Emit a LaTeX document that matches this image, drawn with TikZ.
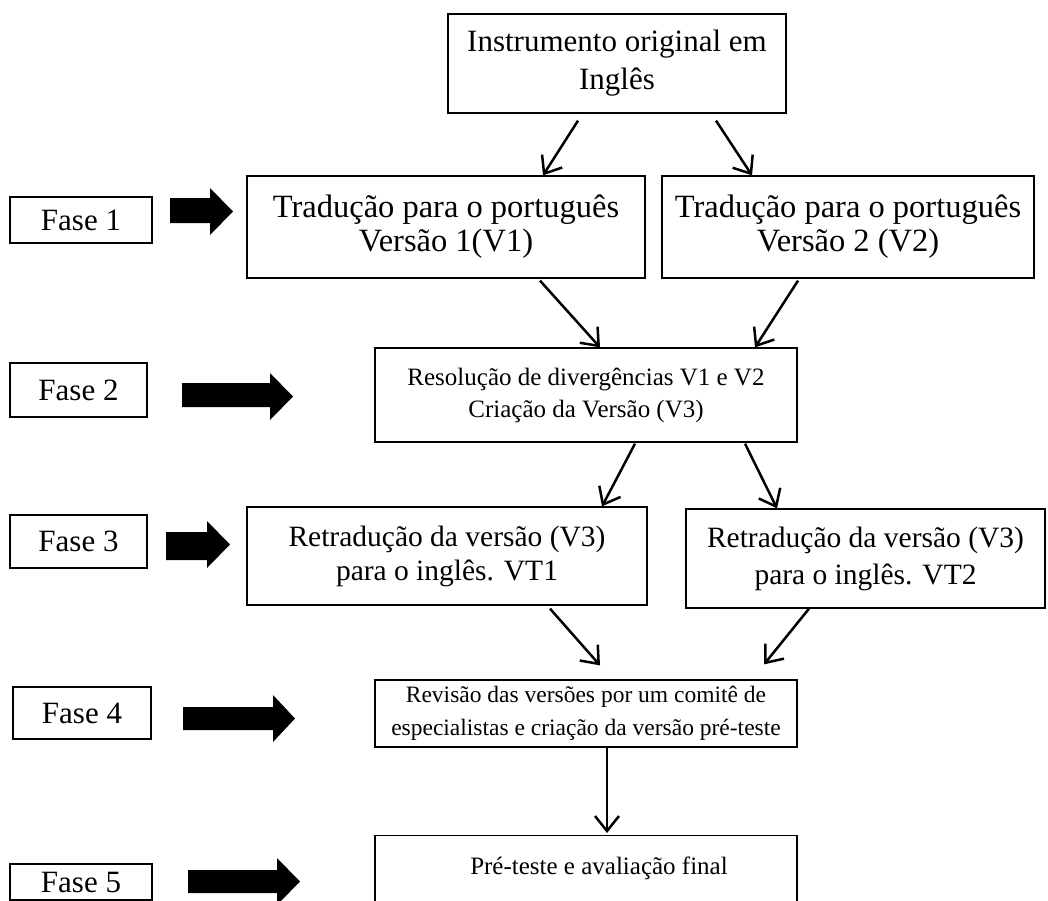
\documentclass[tikz,border=0pt]{standalone}
\usepackage{fontspec}
\setmainfont{Liberation Serif}
\usepackage{tikz}
\usetikzlibrary{arrows.meta,positioning,calc}

\begin{document}
\begin{tikzpicture}[x=1pt,y=-1pt]
    % Estilos
    \tikzset{
        etapa/.style={rectangle, draw, line width=1.3pt, align=center, inner sep=0pt, font=\fontsize{31}{38}\selectfont},
        fase/.style={rectangle, draw, line width=1.3pt, inner sep=0pt, font=\fontsize{31}{35}\selectfont},
        seta/.style={-{Straight Barb[length=15pt,width=24pt]}, line width=2.5pt},
        setagrossa/.style={fill=black}
    }
    \useasboundingbox (0,0) rectangle (1048,900);
    \clip (0,0) rectangle (1048,900);

    % Etapas
    \node[etapa, minimum width=338pt, minimum height=99pt] (orig) at (617,63.5) {Instrumento original em\\Inglês};
    \node[etapa, minimum width=398pt, minimum height=102pt, font=\fontsize{32.5}{34}\selectfont] (trad1) at (446,227) {Tradução para o português\\Versão 1(V1)};
    \node[etapa, minimum width=372pt, minimum height=102pt, font=\fontsize{32.5}{34}\selectfont] (trad2) at (848,227) {Tradução para o português\\Versão 2 (V2)};
    \node[etapa, minimum width=422pt, minimum height=94pt, font=\fontsize{25}{32}\selectfont] (sint) at (586,395) {Resolução de divergências V1 e V2\\Criação da Versão (V3)};
    \node[etapa, minimum width=400pt, minimum height=98pt, font=\fontsize{29.5}{34}\selectfont] (retr1) at (447,556) {Retradução da versão (V3)\\para o inglês. VT1};
    \node[etapa, minimum width=359pt, minimum height=99pt, font=\fontsize{29.5}{37}\selectfont] (retr2) at (865.5,558.5) {Retradução da versão (V3)\\para o inglês. VT2};
    \node[etapa, minimum width=422pt, minimum height=67pt, font=\fontsize{23.5}{33}\selectfont] (comite) at (586,713.5) {Revisão das versões por um comitê de\\especialistas e criação da versão pré-teste};
    \node[etapa, anchor=north, minimum width=422pt, text height=19pt, text depth=40pt, inner ysep=20pt, font=\fontsize{25}{30}\selectfont] (final) at (586,835) {\hspace*{26pt}Pré-teste e avaliação final};

    % Fases
    \node[fase, minimum width=142pt, minimum height=46pt] (f1) at (81,220) {Fase 1};
    \node[fase, minimum width=137pt, minimum height=54pt] (f2) at (78.5,390) {Fase 2};
    \node[fase, minimum width=137pt, minimum height=53pt] (f3) at (78.5,541.5) {Fase 3};
    \node[fase, minimum width=138pt, minimum height=52pt] (f4) at (82,713) {Fase 4};
    \node[fase, minimum width=142pt, minimum height=36pt] (f5) at (81,882) {Fase 5};

    % Setas grossas
    \fill[setagrossa] (170,198) -- (210,198) -- (210,188) -- (233,211.5) -- (210,235) -- (210,223) -- (170,223) -- cycle;
    \fill[setagrossa] (182,383) -- (270,383) -- (270,373) -- (293,396.5) -- (270,420) -- (270,407) -- (182,407) -- cycle;
    \fill[setagrossa] (166,532) -- (207,532) -- (207,521) -- (230,544.5) -- (207,568) -- (207,560) -- (166,560) -- cycle;
    \fill[setagrossa] (183,707) -- (273,707) -- (273,695) -- (295,718.5) -- (273,742) -- (273,730) -- (183,730) -- cycle;
    \fill[setagrossa] (188,870) -- (277,870) -- (277,858) -- (300,881.5) -- (277,905) -- (277,893) -- (188,893) -- cycle;

    % Ligacoes
    \draw[seta] ([xshift=-39pt,yshift=-7pt]orig.south) -- ([xshift=97pt]trad1.north);
    \draw[seta] ([xshift=99pt,yshift=-7pt]orig.south) -- ([xshift=-96pt]trad2.north);
    \draw[seta] ([xshift=94pt,yshift=-2pt]trad1.south) -- ([xshift=14pt]sint.north);
    \draw[seta] ([xshift=-50pt,yshift=-2pt]trad2.south) -- ([xshift=169pt]sint.north);
    \draw[seta] ([xshift=49pt,yshift=-1pt]sint.south) -- ([xshift=155pt]retr1.north);
    \draw[seta] ([xshift=159pt,yshift=-1pt]sint.south) -- ([xshift=-88.5pt]retr2.north);
    \draw[seta] ([xshift=103pt,yshift=-3pt]retr1.south) -- ([xshift=14pt,yshift=14pt]comite.north);
    \draw[seta] ([xshift=-56.5pt]retr2.south) -- ([xshift=178pt,yshift=15pt]comite.north);
    \draw[seta] ([xshift=21pt]comite.south) -- ([xshift=21pt,yshift=2pt]final.north);
\end{tikzpicture}
\end{document}
